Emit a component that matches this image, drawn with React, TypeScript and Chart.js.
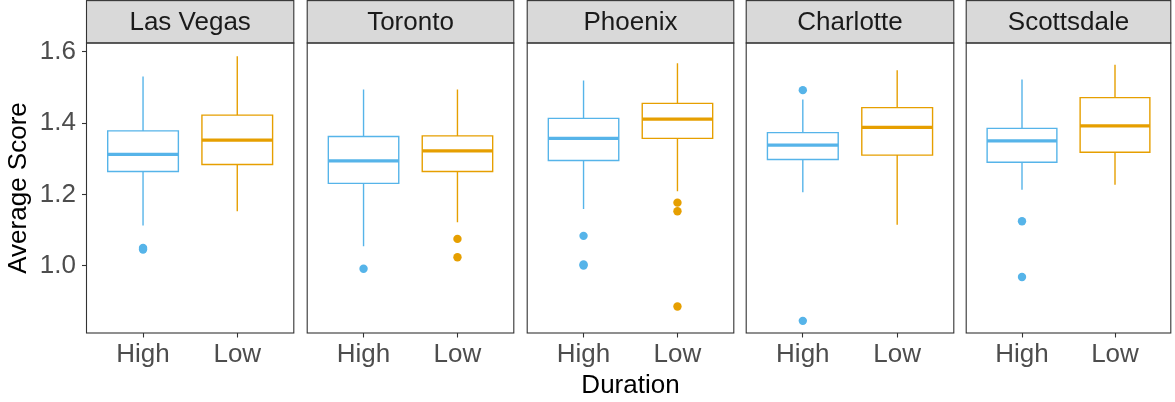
import React, { useEffect, useRef } from "react";
import { Chart, registerables } from "chart.js";

Chart.register(...registerables);

// ---------- data ----------
const cities = ["Las Vegas", "Toronto", "Phoenix", "Charlotte", "Scottsdale"];
const durations = ["High", "Low"];
const yTicks = [1.0, 1.2, 1.4, 1.6];

// "High" duration box statistics, one value per city
const highMin = [1.115, 1.057, 1.161, 1.208, 1.215];
const highQ1 = [1.264, 1.231, 1.295, 1.298, 1.29];
const highMedian = [1.312, 1.294, 1.357, 1.338, 1.35];
const highQ3 = [1.378, 1.362, 1.413, 1.373, 1.385];
const highMax = [1.528, 1.492, 1.517, 1.464, 1.52];
const highOutliers = [
  [1.046, 1.05],
  [0.992],
  [1.084, 1.001, 1.004],
  [1.492, 0.846],
  [1.125, 0.969],
];

// "Low" duration box statistics, one value per city
const lowMin = [1.155, 1.124, 1.211, 1.117, 1.229];
const lowQ1 = [1.284, 1.264, 1.357, 1.31, 1.318];
const lowMedian = [1.352, 1.322, 1.411, 1.388, 1.392];
const lowQ3 = [1.422, 1.364, 1.455, 1.443, 1.471];
const lowMax = [1.585, 1.492, 1.565, 1.546, 1.561];
const lowOutliers = [[], [1.0755, 1.024], [1.177, 1.153, 0.886], [], []];

// ---------- styling / layout ----------
const COLORS = ["#56B4E9", "#E69F00"];
const FONT = "'Liberation Sans', Arial, Helvetica, sans-serif";
const W = 1175;
const H = 402;
const PANEL_LEFT0 = 86.5;
const PANEL_STEP = 219.75;
const PANEL_W = 208.5;
const Y_MIN = 0.812;
const Y_MAX = 1.624;
const BOX_HALF = 0.375;

Chart.defaults.font.family = FONT;

const panelPlugin = {
  id: "facetPanel",
  beforeDraw(chart: any) {
    const { ctx, chartArea } = chart;
    ctx.save();
    ctx.fillStyle = "#D9D9D9";
    ctx.strokeStyle = "#333333";
    ctx.lineWidth = 1.1;
    const top = 0.6;
    ctx.fillRect(chartArea.left, top, chartArea.right - chartArea.left, chartArea.top - top);
    ctx.strokeRect(chartArea.left, top, chartArea.right - chartArea.left, chartArea.top - top);
    ctx.restore();
  },
  afterDraw(chart: any) {
    const { ctx, chartArea } = chart;
    ctx.save();
    ctx.strokeStyle = "#333333";
    ctx.lineWidth = 1.1;
    ctx.strokeRect(
      chartArea.left,
      chartArea.top,
      chartArea.right - chartArea.left,
      chartArea.bottom - chartArea.top
    );
    ctx.restore();
  },
};

function groupDatasets(i: number) {
  const stats = [
    {
      min: highMin[i], q1: highQ1[i], med: highMedian[i], q3: highQ3[i], max: highMax[i], out: highOutliers[i],
    },
    {
      min: lowMin[i], q1: lowQ1[i], med: lowMedian[i], q3: lowQ3[i], max: lowMax[i], out: lowOutliers[i],
    },
  ];
  const sets: any[] = [];
  stats.forEach((s, d) => {
    const c = d + 1;
    const color = COLORS[d];
    sets.push({
      type: "line",
      data: [
        { x: c, y: s.min },
        { x: c, y: s.q1 },
        { x: c, y: null },
        { x: c - BOX_HALF, y: s.q1 },
        { x: c + BOX_HALF, y: s.q1 },
        { x: c + BOX_HALF, y: s.q3 },
        { x: c - BOX_HALF, y: s.q3 },
        { x: c - BOX_HALF, y: s.q1 },
        { x: c, y: null },
        { x: c, y: s.q3 },
        { x: c, y: s.max },
      ],
      borderColor: color,
      borderWidth: 1.4,
      borderCapStyle: "square",
      borderJoinStyle: "miter",
      pointRadius: 0,
      fill: false,
      tension: 0,
      spanGaps: false,
    });
    sets.push({
      type: "line",
      data: [
        { x: c - BOX_HALF, y: s.med },
        { x: c + BOX_HALF, y: s.med },
      ],
      borderColor: color,
      borderWidth: 3.2,
      borderCapStyle: "butt",
      pointRadius: 0,
      fill: false,
    });
    sets.push({
      type: "scatter",
      data: s.out.map((v) => ({ x: c, y: v })),
      backgroundColor: color,
      borderWidth: 0,
      pointRadius: 4.2,
    });
  });
  return sets;
}

function Panel({ index }: { index: number }) {
  const ref = useRef<HTMLCanvasElement | null>(null);

  let canvasLeft: number;
  let canvasWidth: number;
  let padLeft: number;
  let padRight: number;
  if (index === 0) {
    canvasLeft = 0;
    padLeft = 0;
    canvasWidth = Math.ceil(PANEL_LEFT0 + PANEL_W + 3);
    padRight = canvasWidth - PANEL_LEFT0 - PANEL_W;
  } else {
    const L = PANEL_LEFT0 + index * PANEL_STEP;
    canvasLeft = Math.floor(L) - 3;
    padLeft = L - canvasLeft;
    canvasWidth = index === cities.length - 1 ? W - canvasLeft : Math.ceil(padLeft + PANEL_W + 3);
    padRight = canvasWidth - padLeft - PANEL_W;
  }

  useEffect(() => {
    if (!ref.current) return;
    const tickGrid = {
      display: true,
      drawOnChartArea: false,
      drawTicks: true,
      tickLength: 4.5,
      tickColor: "#333333",
      tickWidth: 1.1,
    };
    const yScale: any = {
      type: "linear",
      display: index === 0,
      min: Y_MIN,
      max: Y_MAX,
      afterBuildTicks: (s: any) => {
        s.ticks = yTicks.map((v) => ({ value: v }));
      },
      ticks: {
        callback: (v: any) => Number(v).toFixed(1),
        font: { size: 26, family: FONT },
        color: "#4D4D4D",
        padding: 6,
      },
      grid: tickGrid,
      border: { display: false },
      title: {
        display: true,
        text: "Average Score",
        font: { size: 26, family: FONT },
        color: "#000000",
        padding: { top: 3.4, bottom: 0 },
      },
    };
    if (index === 0) {
      yScale.afterFit = (s: any) => {
        s.width = PANEL_LEFT0;
      };
    }
    const chart = new Chart(ref.current, {
      type: "scatter",
      data: { datasets: groupDatasets(index) },
      plugins: [panelPlugin],
      options: {
        animation: false,
        responsive: false,
        maintainAspectRatio: false,
        events: [],
        layout: { padding: { left: padLeft, right: padRight, top: 0, bottom: 0 } },
        plugins: {
          legend: { display: false },
          tooltip: { enabled: false },
          title: {
            display: true,
            text: cities[index],
            fullSize: false,
            position: "top",
            color: "#1A1A1A",
            font: { size: 26, family: FONT, weight: "normal", lineHeight: 1.2 },
            padding: { top: 7, bottom: 4.8 },
          },
        },
        scales: {
          x: {
            type: "linear",
            min: 0.4,
            max: 2.6,
            afterBuildTicks: (s: any) => {
              s.ticks = durations.map((_, k) => ({ value: k + 1 }));
            },
            afterFit: (s: any) => {
              s.height = 69;
            },
            ticks: {
              callback: (v: any) => durations[Math.round(Number(v)) - 1],
              font: { size: 26, family: FONT },
              color: "#4D4D4D",
              padding: 2,
              autoSkip: false,
              maxRotation: 0,
            },
            grid: tickGrid,
            border: { display: false },
            title: {
              display: index === 2,
              text: "Duration",
              font: { size: 26, family: FONT },
              color: "#000000",
              padding: { top: 0, bottom: 0.4 },
            },
          },
          y: yScale,
        },
      } as any,
    });
    return () => chart.destroy();
  }, [index]);

  return (
    <div style={{ position: "absolute", left: canvasLeft, top: 0, width: canvasWidth, height: H }}>
      <canvas ref={ref} width={canvasWidth} height={H} style={{ width: canvasWidth, height: H, display: "block" }} />
    </div>
  );
}

export default function App() {
  return (
    <div
      style={{
        position: "fixed",
        left: 0,
        top: 0,
        width: W,
        height: H,
        background: "#FFFFFF",
        overflow: "hidden",
      }}
    >
      {cities.map((_, i) => (
        <Panel key={i} index={i} />
      ))}
    </div>
  );
}
